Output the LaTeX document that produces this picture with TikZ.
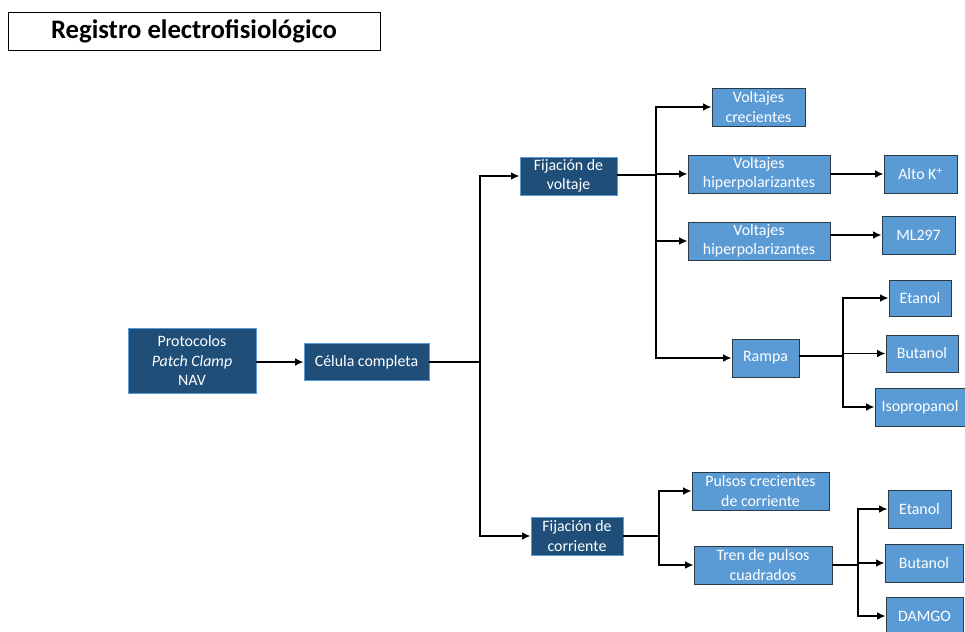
\documentclass[tikz,border=0pt]{standalone}
\usepackage{fontspec}
\setmainfont{Carlito}
\usetikzlibrary{calc, arrows.meta}
\definecolor{darkbox}{HTML}{1F4E79}
\definecolor{lightbox}{HTML}{5B9BD5}
\definecolor{lightedge}{HTML}{2B3A47}

\begin{document}
\begin{tikzpicture}[
                    x=0.025cm, y=-0.025cm,
                    mainbox/.style={rectangle, draw=lightbox, fill=darkbox, text=white, align=center, inner sep=1pt, minimum height=0.95cm, line width=0.6pt, font=\fontsize{11.3}{13.8}\selectfont},
                    subbox/.style={rectangle, draw=lightedge, fill=lightbox, text=white, align=center, inner sep=1pt, minimum height=0.95cm, line width=0.6pt, font=\fontsize{11.3}{13.8}\selectfont},
                    arrow/.style={-{Latex[length=6pt, width=5.5pt]}, line width=1.2pt, draw=black},
                    link/.style={line width=1.2pt, draw=black}
                ]
                    \clip (0,0) rectangle (965,631);
                    \fill[white] (0,0) rectangle (965,631);

                    \node[draw=black, line width=0.6pt, minimum width=9.3cm, minimum height=0.95cm, font=\fontsize{19}{22}\selectfont\bfseries] (title) at (194,31) {Registro electrofisiológico};

                    \node[mainbox, minimum width=3.2cm, minimum height=1.625cm] (proto) at (192,360.5) {Protocolos\\\textit{Patch Clamp}\\NAV};
                    \node[mainbox, minimum width=3.125cm, minimum height=0.925cm] (celula) at (366.5,362) {Célula completa};
                    \node[mainbox, minimum width=2.425cm] (voltaje) at (568.5,176) {Fijación de\\voltaje};
                    \node[mainbox, minimum width=2.3cm] (corriente) at (577,536) {Fijación de\\corriente};

                    \node[subbox, minimum width=2.325cm] (crecientes) at (758.5,107) {Voltajes\\crecientes};
                    \node[subbox, minimum width=3.55cm] (hiperA) at (759,174) {Voltajes\\hiperpolarizantes};
                    \node[subbox, minimum width=1.825cm] (altok) at (920.5,174) {Alto K\textsuperscript{+}};
                    \node[subbox, minimum width=3.55cm] (hiperB) at (759,241) {Voltajes\\hiperpolarizantes};
                    \node[subbox, minimum width=1.825cm] (ml) at (918.5,235) {ML297};
                    \node[subbox, minimum width=1.675cm] (rampa) at (765.5,358) {Rampa};
                    \node[subbox, minimum width=1.55cm, minimum height=0.9cm] (etanolA) at (920,298) {Etanol};
                    \node[subbox, minimum width=1.8cm, minimum height=0.925cm] (butanolA) at (922,353.5) {Butanol};
                    \node[subbox, minimum width=2.25cm] (isopropanol) at (920,407) {Isopropanol};

                    \node[subbox, minimum width=3.425cm] (pulsos) at (760.5,491) {Pulsos crecientes\\de corriente};
                    \node[subbox, minimum width=3.45cm] (tren) at (763,565) {Tren de pulsos\\cuadrados};
                    \node[subbox, minimum width=1.575cm] (etanolB) at (919.5,509) {Etanol};
                    \node[subbox, minimum width=1.95cm] (butanolB) at (924,563) {Butanol};
                    \node[subbox, minimum width=1.925cm] (damgo) at (924.5,616) {DAMGO};

                    \coordinate (splitA) at (480,362);
                    \coordinate (splitB) at (656,175);
                    \coordinate (splitC) at (843,356);
                    \coordinate (splitD) at (659,536);
                    \coordinate (splitE) at (858,565);

                    \draw[arrow] (proto.east |- celula.west) -- (celula.west);
                    \draw[link] (celula.east) -- (splitA);
                    \draw[arrow] (splitA) |- (voltaje.west);
                    \draw[arrow] (splitA) |- (corriente.west);

                    \draw[link] (voltaje.east |- splitB) -- (splitB);
                    \draw[arrow] (splitB) |- (crecientes.west);
                    \draw[arrow] (splitB) |- (hiperA.west);
                    \draw[arrow] (splitB) |- (hiperB.west);
                    \draw[arrow] (splitB) |- (rampa.west);
                    \draw[arrow] (hiperA) -- (altok);
                    \draw[arrow] (hiperB.east |- ml.west) -- (ml.west);

                    \draw[link] (rampa.east |- splitC) -- (splitC);
                    \draw[arrow] (splitC) |- (etanolA.west);
                    \draw[arrow] (splitC) |- (butanolA.west);
                    \draw[arrow] (splitC) |- (isopropanol.west);

                    \draw[link] (corriente.east) -- (splitD);
                    \draw[arrow] (splitD) |- (pulsos.west);
                    \draw[arrow] (splitD) |- (tren.west);

                    \draw[link] (tren.east) -- (splitE);
                    \draw[arrow] (splitE) |- (etanolB.west);
                    \draw[arrow] (splitE) |- (butanolB.west);
                    \draw[arrow] (splitE) |- (damgo.west);

                \end{tikzpicture}
\end{document}
